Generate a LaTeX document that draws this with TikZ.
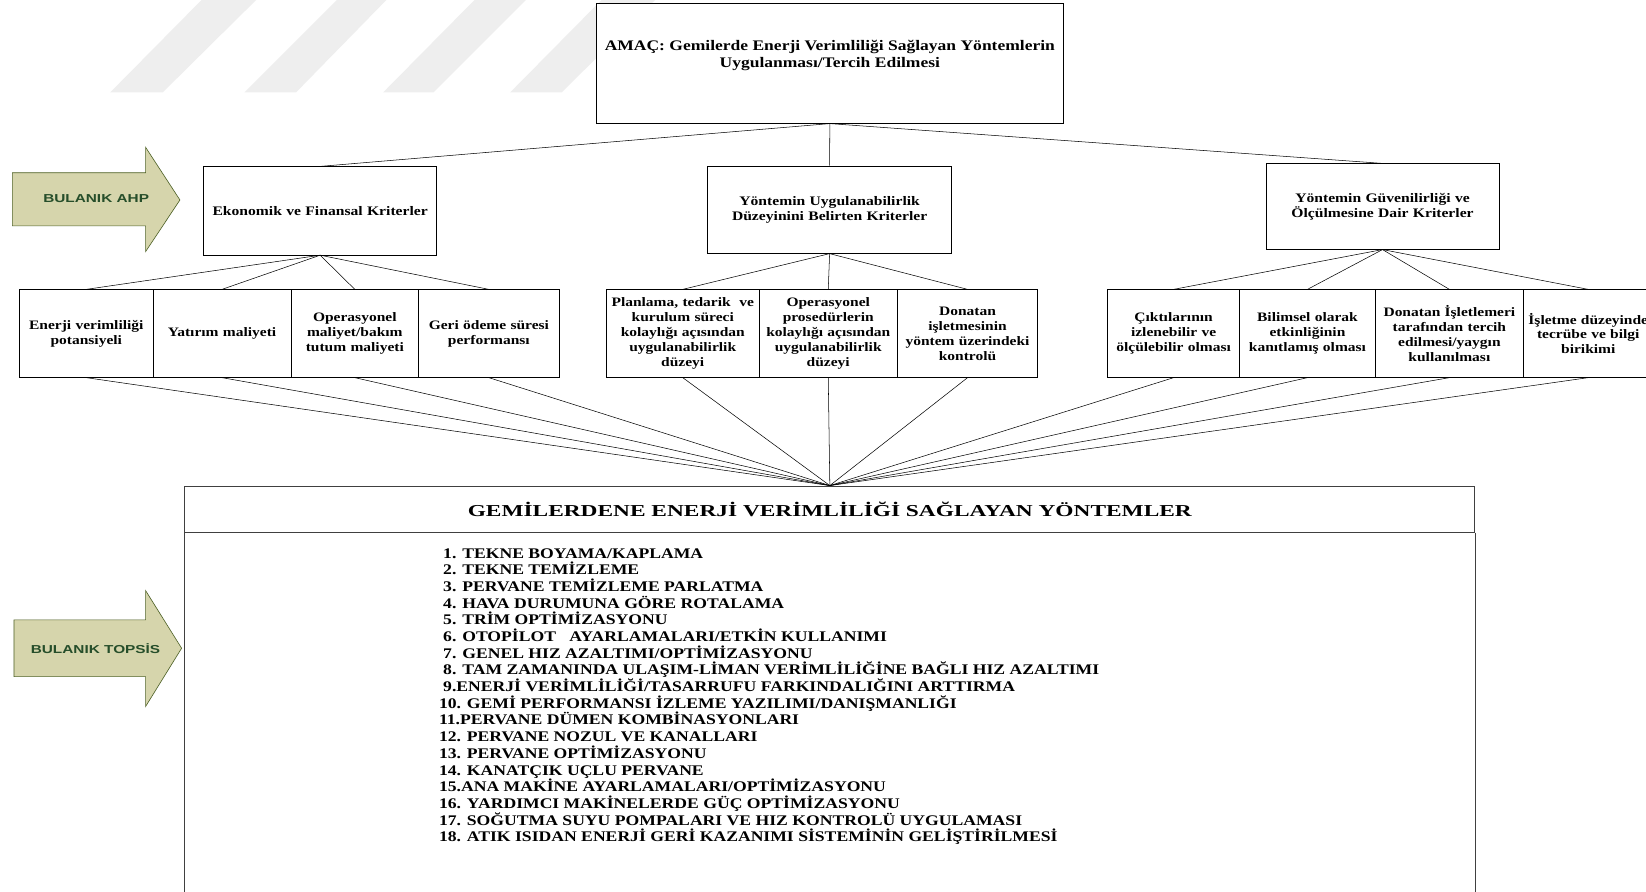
\documentclass[tikz,border=0pt]{standalone}
\usepackage{fontspec}
\setmainfont{Liberation Serif}[FakeStretch=1.2]
\newfontfamily\hdrfont{Liberation Serif}[FakeStretch=1.4]
\newfontfamily\arrowfont{Liberation Sans}[FakeStretch=1.33]
\definecolor{arrowfill}{RGB}{214,213,172}
\definecolor{arrowline}{RGB}{79,98,40}
\definecolor{arrowtext}{RGB}{38,78,42}
\definecolor{wmark}{RGB}{238,238,238}
\tikzset{
  box/.style={draw=black, line width=0.6pt, fill=white, inner sep=0pt, align=center},
  goalfont/.style={font=\bfseries\fontsize{13.9}{16}\selectfont},
  lvtwo/.style={box, font=\bfseries\fontsize{12.4}{14.5}\selectfont},
  lvthree/.style={box, font=\bfseries\fontsize{12.3}{14.2}\selectfont, minimum height=83.5pt},
  conn/.style={draw=black, line width=0.5pt},
  fan/.style={draw=black, line width=0.5pt},
  bigbox/.style={draw=black!75, line width=0.9pt},
  fuzzyarrow/.style={fill=arrowfill, draw=arrowline, line width=0.6pt},
  arrowlabel/.style={text=arrowtext, font=\arrowfont\bfseries\fontsize{11}{13}\selectfont},
  item/.style={anchor=base west, inner sep=0pt, font=\bfseries\fontsize{14}{15.9}\selectfont},
}
\begin{document}
\begin{tikzpicture}[x=1pt, y=-1pt]
\path[use as bounding box, clip] (0,0) rectangle (1568,849);
\fill[white] (0,0) rectangle (1568,849);

% watermark stripes
\fill[wmark] (105,88) -- (155,88) -- (246,-2) -- (194,-2) -- cycle;
\fill[wmark] (233,88) -- (282,88) -- (370,-2) -- (323,-2) -- cycle;
\fill[wmark] (365,88) -- (413,88) -- (503,-2) -- (454,-2) -- cycle;
\fill[wmark] (486,88) -- (535,88) -- (626,-2) -- (575,-2) -- cycle;

% goal box
\node[box, minimum width=445pt, minimum height=114.5pt] (goal) at (790.5,60.2) {};
\node[goalfont, align=center, inner sep=0pt] (goaltxt) at (790.5,52.5)
  {AMAÇ: Gemilerde Enerji Verimliliği Sağlayan Yöntemlerin\\Uygulanması/Tercih Edilmesi};

% level 2
\node[lvtwo, minimum width=222pt, minimum height=84pt, text width=215pt] (eco) at (305,200.8)
  {Ekonomik ve Finansal Kriterler};
\node[lvtwo, minimum width=232.7pt, minimum height=83.2pt, text width=226pt] (uyg) at (790.3,199.7)
  {Yöntemin Uygulanabilirlik\\Düzeyinini Belirten Kriterler};
\node[lvtwo, minimum width=222pt, minimum height=81.5pt, text width=215pt] (guv) at (1317,196.7)
  {Yöntemin Güvenilirliği ve\\Ölçülmesine Dair Kriterler};

\draw[conn] (goal.south) -- (eco.north);
\draw[conn] (goal.south) -- (uyg.north);
\draw[conn] (goal.south) -- (guv.north);

% level 3
\node[lvthree, minimum width=126.9pt, text width=122pt] (e1) at (82.2,317.7)
  {Enerji verimliliği\\potansiyeli};
\node[lvthree, minimum width=131.7pt, text width=126pt] (e2) at (211.5,317.7)
  {Yatırım maliyeti};
\node[lvthree, minimum width=121.5pt, text width=118pt] (e3) at (338,317.7)
  {Operasyonel\\maliyet/bakım\\tutum maliyeti};
\node[lvthree, minimum width=133.7pt, text width=128pt] (e4) at (465.7,317.7)
  {Geri ödeme süresi\\performansı};

\node[lvthree, minimum width=145.3pt, text width=142pt] (m1) at (650.4,317.7)
  {Planlama, tedarik\ \ ve\\kurulum süreci\\kolaylığı açısından\\uygulanabilirlik\\düzeyi};
\node[lvthree, minimum width=132pt, text width=130pt] (m2) at (789,317.7)
  {Operasyonel\\prosedürlerin\\kolaylığı açısından\\uygulanabilirlik\\düzeyi};
\node[lvthree, minimum width=133.4pt, text width=130pt] (m3) at (921.7,317.7)
  {Donatan\\işletmesinin\\yöntem üzerindeki\\kontrolü};

\node[lvthree, minimum width=125.5pt, text width=122pt] (r1) at (1118,317.7)
  {Çıktılarının\\izlenebilir ve\\ölçülebilir olması};
\node[lvthree, minimum width=129.5pt, text width=127pt] (r2) at (1245.5,317.7)
  {Bilimsel olarak\\etkinliğinin\\kanıtlamış olması};
\node[lvthree, minimum width=141pt, text width=138pt] (r3) at (1380.7,317.7)
  {Donatan İşletlemeri\\tarafından tercih\\edilmesi/yaygın\\kullanılması};
\node[lvthree, minimum width=123.6pt, text width=122pt] (r4) at (1513,317.7)
  {İşletme düzeyinde\\tecrübe ve bilgi\\birikimi};

\foreach \c in {e1,e2,e3,e4} \draw[conn] (eco.south) -- (\c.north);
\foreach \c in {m1,m2,m3} \draw[conn] (uyg.south) -- (\c.north);
\foreach \c in {r1,r2,r3,r4} \draw[conn] (guv.south) -- (\c.north);

% bottom box
\node[bigbox, fill=white, minimum width=1229pt, minimum height=44pt, inner sep=0pt,
      font=\hdrfont\bfseries\fontsize{15.9}{18}\selectfont] (hdr) at (790.5,485)
  {GEMİLERDENE ENERJİ VERİMLİLİĞİ SAĞLAYAN YÖNTEMLER};
\draw[bigbox] (hdr.south west) -- ++(0,380);
\draw[bigbox] (hdr.south east) -- ++(0,380);
\coordinate (conv) at (hdr.north);

\foreach \c in {e1,e2,e3,e4,m1,m2,m3,r1,r2,r3,r4} \draw[fan] (\c.south) -- (conv);

% list of methods
\foreach \t [count=\i] in {
  {1. TEKNE BOYAMA/KAPLAMA},
  {2. TEKNE TEMİZLEME},
  {3. PERVANE TEMİZLEME PARLATMA},
  {4. HAVA DURUMUNA GÖRE ROTALAMA},
  {5. TRİM OPTİMİZASYONU},
  {6. OTOPİLOT\ \ \ AYARLAMALARI/ETKİN KULLANIMI},
  {7. GENEL HIZ AZALTIMI/OPTİMİZASYONU},
  {8. TAM ZAMANINDA ULAŞIM-LİMAN VERİMLİLİĞİNE BAĞLI HIZ AZALTIMI},
  {9.ENERJİ VERİMLİLİĞİ/TASARRUFU FARKINDALIĞINI ARTTIRMA},
  {10. GEMİ PERFORMANSI İZLEME YAZILIMI/DANIŞMANLIĞI},
  {11.PERVANE DÜMEN KOMBİNASYONLARI},
  {12. PERVANE NOZUL VE KANALLARI},
  {13. PERVANE OPTİMİZASYONU},
  {14. KANATÇIK UÇLU PERVANE},
  {15.ANA MAKİNE AYARLAMALARI/OPTİMİZASYONU},
  {16. YARDIMCI MAKİNELERDE GÜÇ OPTİMİZASYONU},
  {17. SOĞUTMA SUYU POMPALARI VE HIZ KONTROLÜ UYGULAMASI},
  {18. ATIK ISIDAN ENERJİ GERİ KAZANIMI SİSTEMİNİN GELİŞTİRİLMESİ}}
{
  \pgfmathsetmacro{\xx}{\i<10 ? 422 : 418}
  \node[item] (item\i) at (\xx, 531.6+15.9*\i-15.9) {\t};
}

% fuzzy arrows
\draw[fuzzyarrow] (11.8,164.5) -- (138.7,164.5) -- (138.7,140.3) -- (171.4,190.5)
  -- (138.7,239.7) -- (138.7,215.2) -- (11.8,215.2) -- cycle;
\node[arrowlabel] (ahp) at (91.6,189) {BULANIK AHP};

\draw[fuzzyarrow] (13.3,590.5) -- (138.7,590.5) -- (138.7,562.6) -- (173,617.5)
  -- (138.7,673) -- (138.7,644.5) -- (13.3,644.5) -- cycle;
\node[arrowlabel] (topsis) at (91,617.5) {BULANIK TOPSİS};
\end{tikzpicture}
\end{document}
